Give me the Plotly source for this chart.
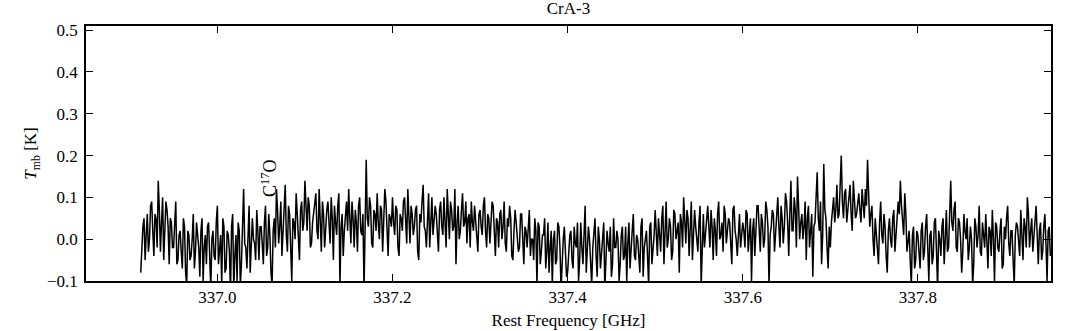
import plotly.graph_objects as go

# Spectrum sampling (GHz): each segment has a start frequency; "even" channels sit on
# start + i*chan_width, "odd" channels halfway between them.
chan_width = 0.0025
seg_starts = [336.9125, 336.95, 337.05, 337.10, 337.20, 337.30, 337.40, 337.50, 337.60, 337.70, 337.80]

# Tmb [K] values, segment by segment (even channels)
seg_a = [-0.08, 0.03, -0.05, 0.06, 0.00, 0.09, -0.04, 0.05, 0.14, -0.03, 0.10, 0.01, 0.07, -0.06, 0.04]
seg_b = [-0.02, 0.09, -0.05, 0.02, -0.07, 0.03, -0.11, 0.01, -0.04, 0.06, -0.03, 0.00, -0.09, 0.05, -0.02,
         -0.06, 0.04, -0.12, 0.02, -0.05, 0.08, -0.03, -0.11, 0.03, -0.07, 0.01, -0.13, 0.06, -0.04, -0.10,
         0.02, -0.06, 0.12, -0.02, 0.04, -0.08, 0.05, -0.01, 0.07, -0.05]
seg_c = [0.03, -0.06, 0.08, -0.02, 0.01, -0.11, 0.05, 0.12, -0.01, 0.09, 0.03, 0.13, -0.03, 0.06, -0.10,
         0.04, 0.11, 0.00, 0.07, 0.02]
seg_d = [0.14, 0.02, 0.08, -0.01, 0.06, 0.11, 0.00, 0.05, 0.09, -0.02, 0.07, 0.03, 0.10, -0.05, 0.04,
         0.08, -0.11, 0.06, 0.02, 0.09, 0.12, -0.01, 0.05, 0.07, -0.03, 0.10, 0.01, -0.12, 0.19, 0.03,
         0.08, -0.02, 0.06, 0.11, 0.00, 0.07, 0.04, 0.09, -0.04, 0.05]
seg_e = [0.10, 0.01, 0.07, -0.04, 0.05, 0.09, 0.02, 0.12, -0.01, 0.06, 0.03, 0.08, -0.05, 0.04, 0.13,
         0.02, 0.07, -0.02, 0.10, 0.04, 0.06, -0.03, 0.09, 0.01, 0.05, 0.12, 0.00, 0.07, 0.03, -0.06,
         0.08, 0.02, 0.11, 0.04, -0.01, 0.06, 0.09, 0.02, 0.05, -0.03]
seg_f = [0.07, 0.01, 0.10, -0.02, 0.05, 0.03, 0.08, -0.04, 0.04, 0.06, 0.00, 0.09, -0.03, 0.03, 0.05,
         -0.05, 0.07, 0.01, -0.02, 0.06, -0.06, 0.02, 0.04, -0.04, 0.00, 0.05, -0.11, 0.03, -0.03, 0.01,
         -0.07, 0.04, -0.02, -0.11, 0.02, -0.05, 0.03, -0.12, 0.00, -0.04]
seg_g = [-0.08, 0.01, -0.05, 0.03, -0.02, -0.10, 0.04, -0.06, 0.08, -0.03, 0.00, -0.11, 0.02, -0.04, 0.03,
         -0.07, 0.01, -0.12, 0.02, -0.03, -0.09, 0.05, -0.02, 0.00, -0.06, 0.03, -0.04, -0.10, 0.04, -0.01,
         0.06, -0.05, 0.00, -0.08, 0.05, -0.02, 0.02, -0.11, 0.04, -0.03]
seg_h = [0.07, -0.04, 0.01, 0.05, -0.06, 0.09, 0.00, 0.03, -0.03, 0.06, 0.02, -0.08, 0.04, 0.10, -0.01,
         0.05, 0.02, -0.05, 0.07, 0.00, 0.04, -0.11, 0.06, 0.01, 0.08, -0.02, 0.03, 0.05, -0.04, 0.09,
         0.01, -0.03, 0.06, 0.02, 0.04, -0.06, 0.08, 0.00, 0.03, -0.02]
seg_i = [0.04, -0.02, 0.06, 0.01, -0.10, 0.05, 0.02, 0.08, -0.03, 0.04, 0.00, 0.07, -0.11, 0.03, 0.06,
         0.01, 0.10, -0.02, 0.05, 0.03, 0.09, -0.04, 0.14, 0.02, 0.07, 0.15, 0.00, 0.06, 0.03, -0.05,
         0.08, 0.01, -0.09, 0.04, 0.16, 0.02, -0.06, 0.18, 0.05, -0.07]
seg_j = [-0.02, 0.08, 0.04, 0.13, 0.06, 0.20, 0.05, 0.12, 0.07, 0.13, 0.02, 0.10, 0.06, 0.11, 0.04,
         0.09, 0.12, 0.19, 0.03, 0.08, -0.04, 0.02, -0.06, 0.09, -0.01, 0.03, -0.08, 0.05, -0.02, 0.07,
         0.01, 0.09, 0.14, 0.04, 0.11, -0.03, 0.02, -0.11, 0.03, -0.05]
seg_k = [0.01, -0.07, 0.04, -0.03, 0.06, -0.10, 0.02, -0.04, 0.05, -0.12, 0.00, 0.03, -0.06, 0.07, -0.02,
         0.14, 0.02, 0.09, -0.03, 0.04, -0.08, 0.06, 0.00, -0.05, 0.03, -0.11, 0.05, -0.02, 0.08, -0.04,
         0.01, 0.06, -0.07, 0.02, 0.07, -0.10, 0.03, -0.03, 0.05, -0.06, 0.00, 0.08, -0.04, 0.02, -0.11,
         0.04, -0.01, 0.07, -0.05, 0.03, 0.10, -0.02, 0.05, 0.00, 0.08, -0.06, 0.04, -0.03, 0.06, -0.10,
         0.03]

# Odd channels (between the even ones), also
seg_a2 = [-0.02, 0.05, 0.01, -0.03, 0.08, 0.02, 0.06, -0.02, 0.07, 0.04, -0.05, 0.09, 0.03, 0.05, -0.02]
seg_b2 = [0.04, -0.06, 0.01, -0.03, 0.05, -0.08, 0.02, -0.05, 0.00, -0.07, 0.04, -0.02, 0.02, -0.10, 0.01,
          0.03, -0.09, 0.00, -0.04, 0.04, -0.06, 0.01, 0.05, -0.08, 0.02, -0.03, 0.03, -0.12, 0.01, 0.04,
          -0.11, 0.05, -0.01, -0.07, 0.08, -0.03, 0.00, -0.05, 0.02, 0.03]
seg_c2 = [-0.01, 0.04, -0.04, 0.06, -0.08, 0.02, -0.02, 0.07, 0.03, -0.04, 0.10, 0.01, 0.08, -0.02, 0.05,
          0.00, 0.06, -0.05, 0.09, 0.04]
seg_d2 = [0.06, 0.10, -0.02, 0.04, 0.08, 0.02, 0.12, -0.03, 0.06, 0.03, 0.09, -0.01, 0.05, 0.08, 0.01,
          0.11, 0.03, -0.04, 0.07, 0.02, 0.05, 0.09, -0.02, 0.04, 0.08, 0.02, 0.06, 0.03, 0.05, 0.10,
          -0.01, 0.07, 0.02, 0.04, 0.08, -0.03, 0.12, 0.01, 0.06, 0.03]
seg_e2 = [0.04, 0.08, -0.02, 0.06, 0.02, 0.10, -0.01, 0.05, 0.08, 0.01, 0.07, -0.03, 0.06, 0.09, 0.03,
          -0.02, 0.11, 0.04, 0.01, 0.08, 0.00, 0.07, 0.03, 0.10, -0.02, 0.05, 0.09, 0.02, 0.12, 0.04,
          0.00, 0.07, 0.03, 0.09, 0.05, -0.02, 0.04, 0.08, 0.01, 0.06]
seg_f2 = [0.03, 0.08, 0.02, 0.06, -0.01, 0.09, 0.02, 0.05, -0.02, 0.07, 0.03, -0.01, 0.05, 0.08, -0.04,
          0.02, 0.04, -0.03, 0.06, 0.01, 0.03, -0.02, 0.07, 0.00, -0.05, 0.02, 0.04, -0.06, 0.01, 0.05,
          -0.03, -0.08, 0.02, 0.00, -0.06, 0.04, -0.02, -0.05, 0.03, -0.09]
seg_g2 = [-0.03, 0.02, -0.07, -0.01, 0.04, -0.05, -0.02, 0.01, -0.08, 0.03, -0.06, -0.02, 0.05, -0.09, 0.00,
          -0.03, 0.04, -0.05, -0.01, 0.03, -0.06, -0.02, 0.02, -0.10, 0.01, -0.05, 0.03, -0.01, -0.07, 0.02,
          -0.04, 0.01, -0.06, 0.03, -0.09, 0.00, -0.04, 0.03, -0.06, 0.01]
seg_h2 = [0.02, 0.05, -0.03, 0.08, 0.01, -0.02, 0.05, -0.05, 0.07, 0.00, 0.04, 0.06, -0.02, 0.03, 0.07,
          -0.04, 0.09, 0.01, 0.03, -0.03, 0.08, 0.00, -0.02, 0.05, 0.03, 0.07, -0.05, 0.02, 0.06, 0.00,
          0.04, 0.08, -0.01, 0.05, -0.03, 0.07, 0.02, -0.04, 0.06, 0.01]
seg_i2 = [0.02, 0.07, -0.03, 0.05, 0.02, -0.04, 0.08, 0.00, 0.06, -0.02, 0.09, 0.03, 0.01, 0.07, -0.03,
          0.06, 0.03, 0.08, -0.01, 0.11, 0.04, 0.06, 0.02, 0.10, -0.02, 0.08, 0.04, 0.00, 0.09, 0.05,
          -0.02, 0.06, 0.03, 0.11, 0.05, 0.09, 0.01, 0.07, -0.02, 0.03]
seg_j2 = [0.04, 0.10, 0.07, 0.05, 0.15, 0.09, 0.11, 0.04, 0.10, 0.06, 0.14, 0.05, 0.09, 0.07, 0.12,
          0.05, 0.08, 0.10, 0.06, 0.00, 0.05, -0.03, 0.04, 0.01, 0.06, -0.04, 0.02, 0.00, 0.05, -0.03,
          0.04, 0.06, 0.08, 0.01, 0.06, 0.00, -0.05, 0.01, -0.07, 0.02]
seg_k2 = [-0.03, 0.02, -0.05, 0.03, -0.02, 0.01, -0.06, 0.04, -0.03, 0.02, -0.04, 0.05, 0.00, -0.03, 0.06,
          0.04, 0.07, -0.02, 0.05, 0.00, -0.03, 0.02, 0.05, -0.02, 0.00, -0.06, 0.03, 0.01, -0.03, 0.04,
          -0.02, 0.01, 0.03, -0.04, 0.00, 0.04, -0.02, 0.02, -0.07, 0.03, 0.05, -0.01, 0.02, -0.05, 0.01,
          0.03, -0.04, 0.02, 0.05, -0.02, 0.06, 0.02, -0.03, 0.04, 0.01, 0.02, -0.05, 0.03, -0.01, 0.02,
          -0.04]

even_segs = [seg_a, seg_b, seg_c, seg_d, seg_e, seg_f, seg_g, seg_h, seg_i, seg_j, seg_k]
odd_segs = [seg_a2, seg_b2, seg_c2, seg_d2, seg_e2, seg_f2, seg_g2, seg_h2, seg_i2, seg_j2, seg_k2]

points = []
for start, ev, od in zip(seg_starts, even_segs, odd_segs):
    points += [(start + i * chan_width, v) for i, v in enumerate(ev)]
    points += [(start + (i + 0.5) * chan_width, v) for i, v in enumerate(od)]
points.sort()
freq = [p[0] for p in points]
tmb = [p[1] for p in points]

x_ticks = [337.0, 337.2, 337.4, 337.6, 337.8]
y_ticks = [-0.1, 0.0, 0.1, 0.2, 0.3, 0.4, 0.5]

line_label = "C<sup>17</sup>O"
line_freq = 337.059

FONT = "Liberation Serif"

fig = go.Figure()
fig.add_trace(go.Scatter(x=freq, y=tmb, mode="lines",
                         line=dict(color="black", width=1.5), showlegend=False))

fig.add_annotation(x=line_freq, y=0.096, xref="x", yref="y", text=line_label,
                   textangle=-90, showarrow=False, xanchor="center", yanchor="bottom",
                   font=dict(family=FONT, size=18, color="black"))

axis_common = dict(showline=True, linecolor="black", linewidth=1.5, mirror="ticks",
                   ticks="inside", ticklen=7, tickwidth=1, tickcolor="black",
                   showgrid=False, zeroline=False,
                   tickfont=dict(family=FONT, size=17, color="black"))

fig.update_xaxes(range=[336.85, 337.952], tickvals=x_ticks, tickformat=".1f",
                 title=dict(text="Rest Frequency [GHz]", standoff=8,
                            font=dict(family=FONT, size=17, color="black")),
                 **axis_common)
fig.update_yaxes(range=[-0.1, 0.51], tickvals=y_ticks, tickformat=".1f",
                 ticklabelstandoff=3,
                 title=dict(text="<i>T</i><sub>mb</sub> [K]", standoff=6,
                            font=dict(family=FONT, size=17, color="black")),
                 **axis_common)

fig.update_layout(
    width=1072, height=331,
    margin=dict(l=86, r=21, t=26, b=50, autoexpand=False),
    plot_bgcolor="white", paper_bgcolor="white",
    title=dict(text="CrA-3", x=0.5, xref="paper", xanchor="center",
               y=1.0, yref="container", yanchor="top", pad=dict(t=2),
               font=dict(family=FONT, size=17, color="black")),
    font=dict(family=FONT, color="black"),
)

fig.write_html("out.html", config={"displayModeBar": False},
               post_script="document.body.style.margin='0';")
